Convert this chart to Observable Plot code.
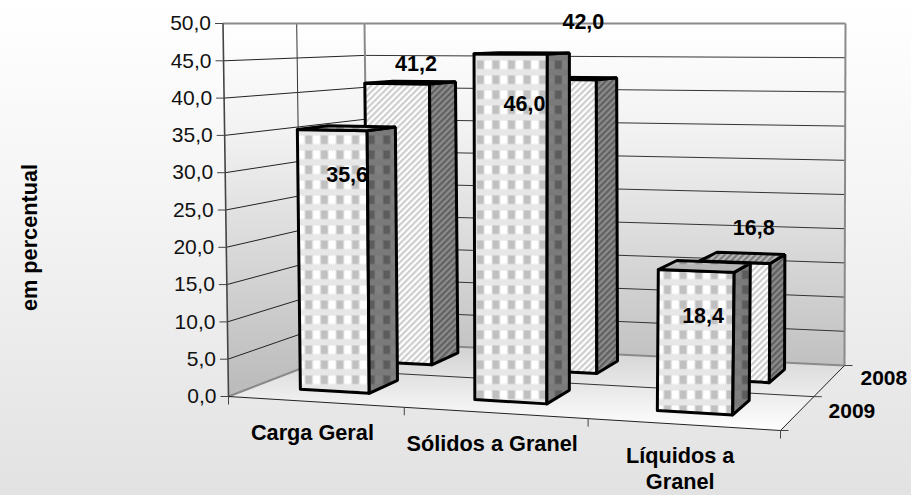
<!DOCTYPE html>
<html>
<head>
<meta charset="utf-8">
<script src="https://cdn.jsdelivr.net/npm/d3@7"></script>
<script src="https://cdn.jsdelivr.net/npm/@observablehq/plot@0.6"></script>
<style>html,body{margin:0;padding:0}svg{display:block}</style>
</head>
<body>
<div id="chart"></div>
<script>
// ---------- data ----------
const categories = ["Carga Geral", "Sólidos a Granel", "Líquidos a\nGranel"];
const seriesNames = ["2009", "2008"];
const values2009 = [35.6, 46.0, 18.4];
const values2008 = [41.2, 42.0, 16.8];
const valueTicks = [0, 5, 10, 15, 20, 25, 30, 35, 40, 45, 50];
const yLabel = "em percentual";

// ---------- 3D view: (category, depth, value) -> screen ----------
const corners = {
  c000: [228, 396], c100: [780, 430], c010: [368, 342], c110: [844, 365],
  c001: [222.5, 23], c101: [786, 23], c011: [364, 23], c111: [845, 23]
};
const warp = (t, k) => t / (t + k * (1 - t));
const mix = (a, b, t) => a + (b - a) * t;
function project(cat, depth, value) {
  const u = warp(cat / categories.length, 1.07), v = warp(depth, 0.92), w = value / 50;
  const at = i => mix(
    mix(mix(corners.c000[i], corners.c100[i], u), mix(corners.c010[i], corners.c110[i], u), v),
    mix(mix(corners.c001[i], corners.c101[i], u), mix(corners.c011[i], corners.c111[i], u), v), w);
  return {x: at(0), y: at(1)};
}
const link = (a, b) => ({x1: a.x, y1: a.y, x2: b.x, y2: b.y});
const poly = pts => pts.map(p => project(...p));
const comma = v => v.toFixed(1).replace(".", ",");

const BAR_HALF = 0.2, DEPTH_HALF = 0.11, BAR_BASE = 0.3;

function pat(id, size, base, body) {
  return `<pattern id="${id}" patternUnits="userSpaceOnUse" width="${size[0]}" height="${size[1]}">` +
    `<rect width="${size[0]}" height="${size[1]}" fill="${base}"/>${body}</pattern>`;
}
function plaid(id, base, dith, a, b) {
  const dither = pat(id + "d", [2, 2], base, `<rect width="1" height="1" fill="${dith}"/><rect x="1" y="1" width="1" height="1" fill="${dith}"/>`);
  return dither + pat(id, [15.6, 15], base,
    `<rect width="15.6" height="15" fill="url(#${id}d)"/>` +
    `<rect x="0.6" y="0" width="6.8" height="8.5" fill="${a}"/><rect x="8.4" y="0" width="6.8" height="8.5" fill="${b}"/>`);
}
function stripes(id, a, b) {
  return `<pattern id="${id}" patternUnits="userSpaceOnUse" width="4.4" height="4.4" patternTransform="rotate(45)">` +
    `<rect width="4.4" height="4.4" fill="${a}"/><rect width="2.2" height="4.4" fill="${b}"/></pattern>`;
}
const defsHtml =
  `<linearGradient id="wall" gradientUnits="userSpaceOnUse" x1="0" y1="23" x2="0" y2="385"><stop offset="0" stop-color="#ffffff"/><stop offset="0.3" stop-color="#f2f2f2"/><stop offset="1" stop-color="#bcbcbc"/></linearGradient>` +
  `<linearGradient id="floor" gradientUnits="userSpaceOnUse" x1="0" y1="430" x2="0" y2="345"><stop offset="0" stop-color="#ffffff"/><stop offset="1" stop-color="#d2d2d2"/></linearGradient>` +
  plaid("f2009", "#ffffff", "#cfcfcf", "#ffffff", "#c0c0c0") +
  plaid("s2009", "#868686", "#6e6e6e", "#808080", "#5c5c5c") +
  plaid("t2009", "#c4c4c4", "#a8a8a8", "#cccccc", "#8e8e8e") +
  stripes("f2008", "#ffffff", "#cdcdcd") +
  stripes("s2008", "#8c8c8c", "#606060") +
  stripes("t2008", "#b8b8b8", "#7c7c7c");

// ---------- bars ----------
function barFaces(seriesIndex, name, values) {
  const d0 = (seriesIndex + 0.5) / seriesNames.length - DEPTH_HALF;
  const d1 = (seriesIndex + 0.5) / seriesNames.length + DEPTH_HALF;
  const b = BAR_BASE;
  return values.flatMap((val, i) => {
    const c0 = i + 0.5 - BAR_HALF, c1 = i + 0.5 + BAR_HALF;
    const faces = [
      [`f${name}`, [[c0, d0, b], [c1, d0, b], [c1, d0, val], [c0, d0, val], [c0, d0, b]]],
      [`s${name}`, [[c1, d0, b], [c1, d1, b], [c1, d1, val], [c1, d0, val], [c1, d0, b]]],
      [`t${name}`, [[c0, d0, val], [c1, d0, val], [c1, d1, val], [c0, d1, val], [c0, d0, val]]]
    ];
    return faces.map(([id, pts]) => Plot.line(poly(pts), {
      x: "x", y: "y", fill: `url(#${id})`, stroke: "#000", strokeWidth: 3, strokeLinejoin: "miter"
    }));
  });
}

// ---------- wall / floor outlines and grid ----------
const nC = categories.length;
const leftWall = poly([[0, 0, 0], [0, 1, 0], [0, 1, 50], [0, 0, 50], [0, 0, 0]]);
const backWall = poly([[0, 1, 0], [nC, 1, 0], [nC, 1, 50], [0, 1, 50], [0, 1, 0]]);
const floor = poly([[0, 0, 0], [nC, 0, 0], [nC, 1, 0], [0, 1, 0], [0, 0, 0]]);

const gridLeft = valueTicks.slice(1, -1).map(v => link(project(0, 0, v), project(0, 1, v)));
const gridBack = valueTicks.slice(1, -1).map(v => link(project(0, 1, v), project(nC, 1, v)));
const valueAxisTicks = valueTicks.map(v => { const p = project(0, 0, v); return {x1: p.x - 8, y1: p.y, x2: p.x, y2: p.y}; });
const valueAxisLabels = valueTicks.map(v => ({...project(0, 0, v), text: comma(v)}));
const catTicks = d3.range(nC + 1).map(i => { const p = project(i, 0, 0); return {x1: p.x, y1: p.y, x2: p.x, y2: p.y + 8}; });
const depthTicks = [0, 0.5, 1].map(d => { const p = project(nC, d, 0); return {x1: p.x, y1: p.y, x2: p.x + 8, y2: p.y}; });
const catLabels = categories.map((c, i) => ({...project(i + 0.5, 0, 0), text: c}));
const seriesLabels = seriesNames.map((s, i) => ({...project(nC, (i + 0.5) / seriesNames.length, 0), text: s}));

// manual label shifts (the source chart's data labels were moved by hand)
const shift2009 = [[15, 45], [14, 50], [7, 45]];
const shift2008 = [[19, -20], [21, -57], [19, -34]];
const dataLabels = [
  ...values2009.map((v, i) => { const p = project(i + 0.5, 0.25 - DEPTH_HALF, v); return {x: p.x + shift2009[i][0], y: p.y + shift2009[i][1], text: comma(v)}; }),
  ...values2008.map((v, i) => { const p = project(i + 0.5, 0.75 - DEPTH_HALF, v); return {x: p.x + shift2008[i][0], y: p.y + shift2008[i][1], text: comma(v)}; })
];

const FONT = "Liberation Sans";
const chart = Plot.plot({
  width: 911, height: 495, margin: 0,
  x: {domain: [0, 911], range: [0, 911], axis: null},
  y: {domain: [0, 495], range: [0, 495], axis: null},
  style: {background: "linear-gradient(#ffffff, #f6f6f6 35%, #e2e2e2)", fontFamily: FONT, color: "#000"},
  marks: [
    () => d3.create("svg:defs").html(defsHtml).node(),
    Plot.line(leftWall, {x: "x", y: "y", fill: "url(#wall)", stroke: "none"}),
    Plot.line(backWall, {x: "x", y: "y", fill: "url(#wall)", stroke: "none"}),
    Plot.line(floor, {x: "x", y: "y", fill: "url(#floor)", stroke: "none"}),
    Plot.link(gridLeft, {x1: "x1", y1: "y1", x2: "x2", y2: "y2", stroke: "#222", strokeWidth: 1}),
    Plot.link(gridBack, {x1: "x1", y1: "y1", x2: "x2", y2: "y2", stroke: "#333", strokeWidth: 1}),
    Plot.link([link(project(0, 0.5, 0), project(0, 0.5, 50)), link(project(0, 0.5, 0), project(nC, 0.5, 0))], {x1: "x1", y1: "y1", x2: "x2", y2: "y2", stroke: "#333", strokeWidth: 1}),
    // wall edges
    Plot.link([link(project(0, 0, 50), project(0, 1, 50)), link(project(0, 1, 50), project(nC, 1, 50)),
               link(project(0, 1, 0), project(0, 1, 50)), link(project(nC, 1, 0), project(nC, 1, 50)),
               link(project(0, 0, 0), project(0, 1, 0)), link(project(0, 1, 0), project(nC, 1, 0))],
      {x1: "x1", y1: "y1", x2: "x2", y2: "y2", stroke: "#8a8a8a", strokeWidth: 2}),
    Plot.link([link(project(0, 0, 0), project(0, 0, 50))], {x1: "x1", y1: "y1", x2: "x2", y2: "y2", stroke: "#444", strokeWidth: 1.6}),
    Plot.link([link(project(0, 0, 0), project(nC, 0, 0)), link(project(nC, 0, 0), project(nC, 1, 0))], {x1: "x1", y1: "y1", x2: "x2", y2: "y2", stroke: "#222", strokeWidth: 1}),
    // ticks
    Plot.link(valueAxisTicks, {x1: "x1", y1: "y1", x2: "x2", y2: "y2", stroke: "#444", strokeWidth: 1}),
    Plot.link(catTicks, {x1: "x1", y1: "y1", x2: "x2", y2: "y2", stroke: "#444", strokeWidth: 1}),
    Plot.link(depthTicks, {x1: "x1", y1: "y1", x2: "x2", y2: "y2", stroke: "#444", strokeWidth: 1}),
    // bars, back row first
    ...barFaces(1, seriesNames[1], values2008),
    ...barFaces(0, seriesNames[0], values2009),
    // text
    Plot.text(valueAxisLabels, {x: "x", y: "y", text: "text", dx: -12, textAnchor: "end", fontSize: 21, fill: "#111"}),
    Plot.text(catLabels, {x: "x", y: "y", text: "text", dy: 19.5, dx: -3, lineAnchor: "top", lineHeight: 1.2, fontSize: 21.7, fontWeight: "bold", fill: "#000"}),
    Plot.text(seriesLabels, {x: "x", y: "y", text: "text", dx: 31, dy: -2, textAnchor: "start", fontSize: 21, fontWeight: "bold", fill: "#000"}),
    Plot.text(dataLabels, {x: "x", y: "y", text: "text", fontSize: 21.5, fontWeight: "bold", fill: "#000"}),
    Plot.text([yLabel], {x: () => 29.5, y: () => 237, text: d => d, rotate: -90, fontSize: 21.7, fontWeight: "bold", fill: "#000"})
  ]
});
document.getElementById("chart").appendChild(chart);
</script>
</body>
</html>
